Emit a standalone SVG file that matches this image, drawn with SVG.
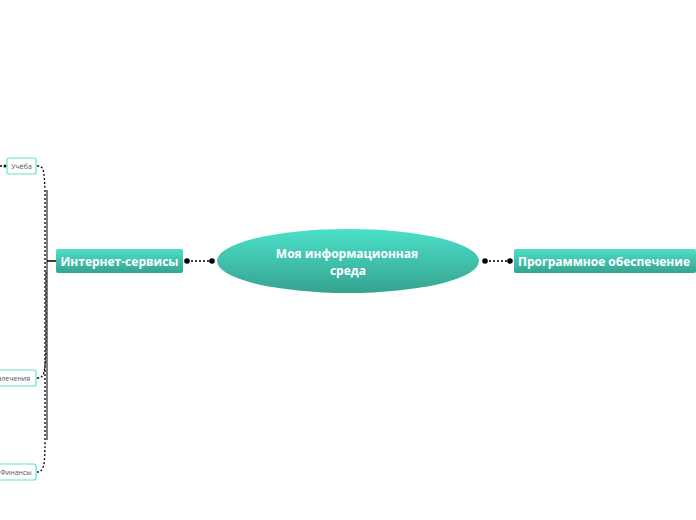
<svg xmlns="http://www.w3.org/2000/svg" width="696" height="520" viewBox="0 0 696 520">
<defs>
<linearGradient id="g" x1="0" y1="0" x2="0" y2="1"><stop offset="0" stop-color="#4be0c8"/><stop offset="1" stop-color="#36a390"/></linearGradient>
<style>
.t{font-family:"Open Sans","Noto Sans",sans-serif;fill:#fff;font-weight:bold;font-size:12px;text-anchor:middle}
.s{font-family:"Open Sans","Noto Sans",sans-serif;fill:#555;font-size:7px;text-anchor:middle}
.sb{fill:#fff;stroke:#5fe3d0;stroke-width:1.2}
.c{fill:none;stroke:#000;stroke-width:1.3;stroke-dasharray:2,2}
</style>
</defs>
<g id="connectors">
<path class="c" d="M187 261H212"/>
<circle cx="187" cy="261" r="2.8"/><circle cx="212" cy="261" r="2.8"/>
<path class="c" d="M485 261H510"/>
<circle cx="485" cy="261" r="2.8"/><circle cx="510" cy="261" r="2.8"/>
<path d="M47 261H56" stroke="#000" stroke-width="1.5"/>
<path class="c" d="M37 166C44 166 44 170 45 190V440C45 465 44 472 37 472"/>
<path class="c" d="M37 378C44 378 45 374 46 350V270"/>
<path d="M47 190V440" stroke="#000" stroke-width="1"/>
<path class="c" d="M0 166H5"/><circle cx="5" cy="166" r="1.5"/>
</g>
<g id="root"><ellipse cx="348" cy="261" rx="131" ry="32" fill="url(#g)"/>
<text class="t" x="347" y="258">Моя информационная</text><text class="t" x="348" y="275">среда</text></g>
<g id="internet"><rect x="56" y="249" width="127" height="24" rx="2" fill="url(#g)"/><text class="t" x="119.5" y="266">Интернет-сервисы</text></g>
<g id="software"><rect x="514" y="249" width="182" height="24" rx="2" fill="url(#g)"/><text class="t" x="604" y="266">Программное обеспечение</text></g>
<g id="study"><rect class="sb" x="7" y="158" width="29" height="16" rx="2"/><text class="s" x="21.5" y="168.5">Учёба</text></g>
<g id="fun"><rect class="sb" x="-20" y="370" width="56" height="16" rx="2"/><text class="s" x="8" y="380.5">Развлечения</text></g>
<g id="finance"><rect class="sb" x="-4" y="464" width="40" height="16" rx="2"/><text class="s" x="16" y="474.5">Финансы</text></g>
</svg>
